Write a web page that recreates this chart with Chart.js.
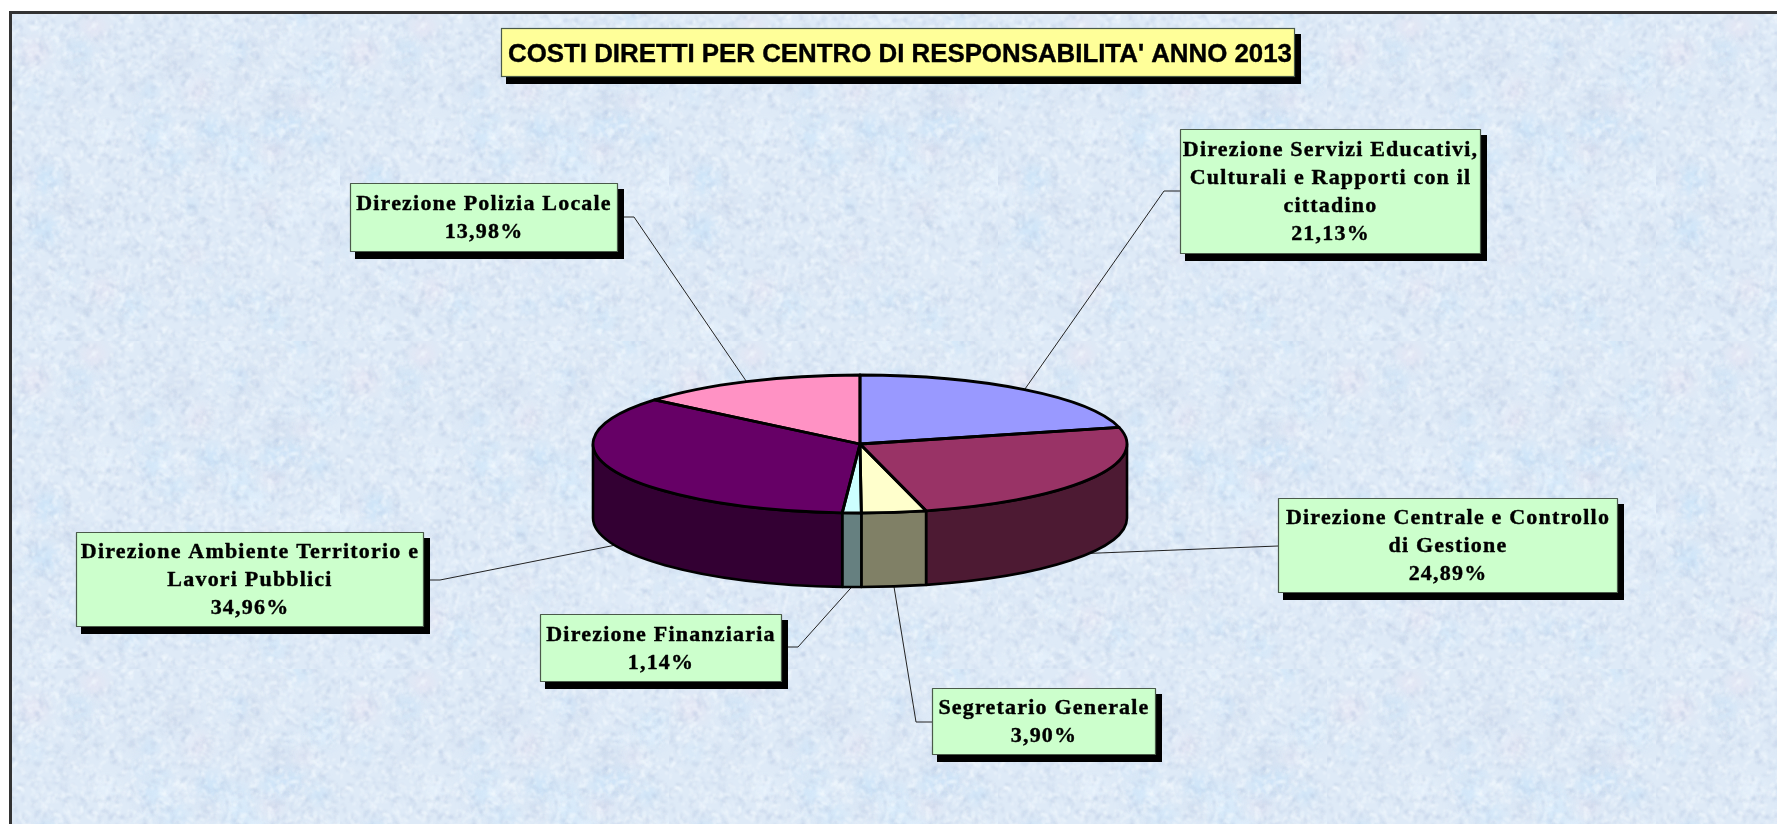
<!DOCTYPE html>
<html lang="it">
<head>
<meta charset="utf-8">
<title>Costi diretti per centro di responsabilità 2013</title>
<script src="https://cdn.jsdelivr.net/npm/chart.js@4"></script>
<style>html,body{margin:0;padding:0;background:#fff;overflow:hidden}canvas{display:block}</style>
</head>
<body>
<canvas id="c" width="1777" height="824"></canvas>
<script>
// ---- data ----
const chartTitle = "COSTI DIRETTI PER CENTRO DI RESPONSABILITA' ANNO 2013";
const categories = [
  "Direzione Servizi Educativi, Culturali e Rapporti con il cittadino",
  "Direzione Centrale e Controllo di Gestione",
  "Segretario Generale",
  "Direzione Finanziaria",
  "Direzione Ambiente Territorio e Lavori Pubblici",
  "Direzione Polizia Locale"
];
const shares = [21.13, 24.89, 3.90, 1.14, 34.96, 13.98];
const labelLines = [
  ["Direzione Servizi Educativi,", "Culturali e Rapporti con il", "cittadino"],
  ["Direzione Centrale e Controllo", "di Gestione"],
  ["Segretario Generale"],
  ["Direzione Finanziaria"],
  ["Direzione Ambiente Territorio e", "Lavori Pubblici"],
  ["Direzione Polizia Locale"]
];
const sliceColors = ["#9999FF", "#993366", "#FFFFCC", "#CCFFFF", "#660066", "#FF92C4"];
const wallColors  = ["#4D4D80", "#4D1A33", "#808066", "#668080", "#330033", "#804962"];

// ---- layout ----
const pieCentreX = 860, pieCentreY = 444, pieRadius = 267, pieRadiusY = 69, pieDepth = 74;
const titleBox = {x: 501, y: 28, w: 794, h: 49};
const calloutBoxes = [
  {x: 1180, y: 129, w: 301, h: 125, elbow: [1164, 191], side: 'l'},
  {x: 1278, y: 498, w: 340, h: 95,  elbow: null,        side: 'l', ey: 546},
  {x: 932,  y: 688, w: 224, h: 67,  elbow: [916, 722],  side: 'l'},
  {x: 540,  y: 614, w: 242, h: 68,  elbow: [798, 647],  side: 'r'},
  {x: 76,   y: 532, w: 348, h: 95,  elbow: [440, 580],  side: 'r'},
  {x: 350,  y: 183, w: 268, h: 69,  elbow: [634, 217],  side: 'r'}
];

// ---- background texture: a tile of fine marbled speckle, no data in it ----
function makeTile() {
  const W = 329, H = 328;
  const t = document.createElement('canvas'); t.width = W; t.height = H;
  const g = t.getContext('2d');
  let s = 20130;
  const rnd = () => (s = (s * 16807) % 2147483647) / 2147483647;
  g.fillStyle = '#DEEAF7'; g.fillRect(0, 0, W, H);
  g.filter = 'blur(6px)';
  const blots = ['rgba(196,226,250,.55)', 'rgba(205,232,252,.5)', 'rgba(236,226,240,.4)', 'rgba(232,244,253,.7)', 'rgba(204,216,236,.35)'];
  for (let i = 0; i < 80; i++) {
    g.fillStyle = blots[Math.floor(rnd() * blots.length)];
    g.beginPath(); g.arc(rnd() * W, rnd() * H, 4 + rnd() * 11, 0, 7); g.fill();
  }
  g.filter = 'blur(1px)';
  for (let i = 0; i < 5200; i++) {
    const x = rnd() * W, y = rnd() * H, a = rnd() * 6.3, l = 2 + rnd() * 6;
    g.strokeStyle = rnd() < 0.58 ? 'rgba(244,250,255,.62)' : 'rgba(180,198,224,.36)';
    g.lineWidth = 1.2 + rnd();
    g.beginPath(); g.moveTo(x, y); g.lineTo(x + Math.cos(a) * l, y + Math.sin(a) * l); g.stroke();
  }
  g.filter = 'none';
  return t;
}

const backdrop = {
  id: 'backdrop',
  beforeDraw(chart) {
    const c = chart.ctx, W = chart.width, H = chart.height;
    c.save();
    c.fillStyle = '#fff'; c.fillRect(0, 0, W, H);
    c.translate(11, 13);
    c.fillStyle = c.createPattern(makeTile(), 'repeat');
    c.fillRect(0, 0, W, H);
    c.restore();
    c.fillStyle = '#333';
    c.fillRect(9, 11, W - 9, 3);
    c.fillRect(9, 11, 3, H - 11);
  }
};

function boxWithShadow(c, b, fill) {
  c.fillStyle = '#000';
  c.fillRect(b.x + 5, b.y + 6, b.w + 1, b.h + 1);
  c.fillStyle = fill;
  c.fillRect(b.x, b.y, b.w, b.h);
  c.strokeStyle = '#4a5a4a'; c.lineWidth = 1.2;
  c.strokeRect(b.x + .5, b.y + .5, b.w - 1, b.h - 1);
}

// ---- pie in perspective: the library's arc elements give the angles ----
const tilted = {
  id: 'tilted',
  beforeDatasetsDraw(chart) {
    const c = chart.ctx, arcs = chart.getDatasetMeta(0).data;
    // leaders run under the pie
    c.save();
    c.strokeStyle = '#222'; c.lineWidth = 1;
    arcs.forEach((a, i) => {
      const mid = (a.startAngle + a.endAngle) / 2;
      const px = a.x + a.outerRadius * Math.cos(mid);
      const py = a.y + pieRadiusY * Math.sin(mid) + (Math.sin(mid) > 0 ? pieDepth : 0);
      const b = calloutBoxes[i];
      c.beginPath(); c.moveTo(px, py);
      const ex = b.side === 'l' ? b.x : b.x + b.w;
      if (b.elbow) { c.lineTo(b.elbow[0], b.elbow[1]); c.lineTo(ex, b.elbow[1]); }
      else c.lineTo(ex, b.ey);
      c.stroke();
    });
    c.restore();
    // walls
    c.save();
    c.lineWidth = 2.6; c.strokeStyle = '#000'; c.lineJoin = 'round';
    arcs.forEach((a, i) => {
      const s = Math.max(a.startAngle, 0), e = Math.min(a.endAngle, Math.PI);
      if (e <= s) return;
      c.beginPath();
      c.ellipse(a.x, a.y, a.outerRadius, pieRadiusY, 0, s, e);
      c.ellipse(a.x, a.y + pieDepth, a.outerRadius, pieRadiusY, 0, e, s, true);
      c.closePath();
      c.fillStyle = wallColors[i]; c.fill(); c.stroke();
    });
    c.restore();
    // squash the circular arcs into the ellipse
    c.save();
    const a0 = arcs[0];
    c.translate(a0.x, a0.y);
    c.scale(1, pieRadiusY / a0.outerRadius);
    c.translate(-a0.x, -a0.y);
  },
  afterDatasetsDraw(chart) {
    const c = chart.ctx, arcs = chart.getDatasetMeta(0).data;
    c.restore();
    c.save();
    c.lineWidth = 2.8; c.strokeStyle = '#000'; c.lineJoin = 'round';
    arcs.forEach(a => {
      c.beginPath();
      c.moveTo(a.x, a.y);
      c.ellipse(a.x, a.y, a.outerRadius, pieRadiusY, 0, a.startAngle, a.endAngle);
      c.closePath(); c.stroke();
    });
    c.restore();
  },
  afterDraw(chart) {
    const c = chart.ctx;
    c.save();
    // title
    boxWithShadow(c, titleBox, '#FFFF99');
    c.fillStyle = '#000'; c.strokeStyle = '#000'; c.lineJoin = 'round';
    c.textAlign = 'center'; c.textBaseline = 'alphabetic';
    c.font = 'bold 25.85px "Liberation Sans", Arial, sans-serif';
    c.letterSpacing = '0px';
    const tx = titleBox.x + titleBox.w / 2 + 2, ty = titleBox.y + 33.5;
    c.fillText(chartTitle, tx, ty);
    c.lineWidth = 0.4;
    c.strokeText(chartTitle, tx, ty);
    // callouts
    c.font = 'bold 22px "Liberation Serif", "Times New Roman", serif';
    c.letterSpacing = '1.2px';
    shares.forEach((v, i) => {
      const b = calloutBoxes[i];
      boxWithShadow(c, b, '#CCFFCC');
      const lines = [...labelLines[i], v.toFixed(2).replace('.', ',') + '%'];
      c.fillStyle = '#000'; c.strokeStyle = '#000'; c.lineWidth = 0.4;
      lines.forEach((t, k) => {
        const x = b.x + b.w / 2, y = b.y + b.h / 2 + (k - (lines.length - 1) / 2) * 28 + 6.5;
        c.fillText(t, x, y);
        c.strokeText(t, x, y);
      });
    });
    c.restore();
  }
};

new Chart(document.getElementById('c'), {
  type: 'pie',
  data: {
    labels: categories,
    datasets: [{
      data: shares,
      backgroundColor: sliceColors,
      borderWidth: 0,
      radius: pieRadius
    }]
  },
  options: {
    responsive: false,
    animation: false,
    layout: {padding: {left: 0, right: 1777 - 2 * pieCentreX, top: 2 * pieCentreY - 824, bottom: 0}},
    plugins: {legend: {display: false}, tooltip: {enabled: false}, title: {display: false}}
  },
  plugins: [backdrop, tilted]
});
</script>
</body>
</html>
